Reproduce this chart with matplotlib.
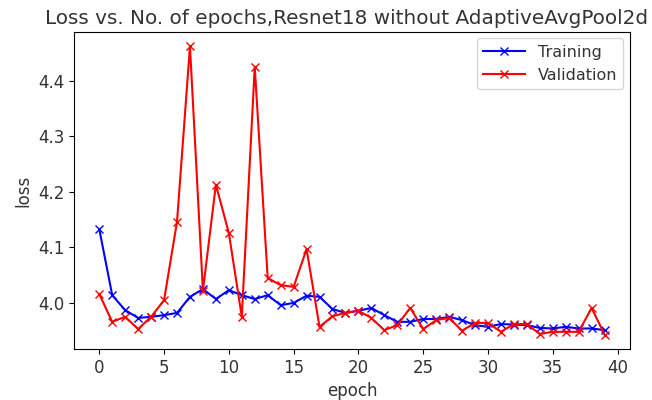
import matplotlib
matplotlib.use('Agg')
import matplotlib.pyplot as plt

# Loss per epoch for the Resnet18 run without the adaptive pooling layer
epochs = list(range(40))
train_loss = [4.133, 4.014, 3.987, 3.973, 3.975, 3.978, 3.982, 4.011, 4.025, 4.007,
              4.023, 4.014, 4.007, 4.014, 3.996, 4.000, 4.013, 4.011, 3.989, 3.982,
              3.986, 3.991, 3.978, 3.966, 3.966, 3.971, 3.971, 3.975, 3.969, 3.960,
              3.957, 3.962, 3.961, 3.960, 3.955, 3.954, 3.957, 3.954, 3.954, 3.951]
val_loss = [4.016, 3.966, 3.975, 3.953, 3.975, 4.005, 4.146, 4.462, 4.022, 4.213,
            4.126, 3.975, 4.425, 4.045, 4.032, 4.029, 4.097, 3.957, 3.976, 3.982,
            3.986, 3.973, 3.951, 3.960, 3.991, 3.953, 3.969, 3.973, 3.950, 3.964,
            3.964, 3.948, 3.962, 3.962, 3.944, 3.948, 3.948, 3.948, 3.991, 3.943]

plt.rcParams['font.size'] = 12
plt.rcParams['text.color'] = '#333333'
plt.rcParams['axes.labelcolor'] = '#333333'
plt.rcParams['xtick.labelcolor'] = '#333333'
plt.rcParams['ytick.labelcolor'] = '#333333'

fig = plt.figure(figsize=(6.52, 4.0), dpi=100)
ax = fig.add_axes([0.1135, 0.1275, 0.8525, 0.7925])

ax.plot(epochs, train_loss, '-bx')
ax.plot(epochs, val_loss, '-rx')
ax.legend(['Training', 'Validation'], loc='upper right', fontsize=11.5,
          handlelength=2.6, borderaxespad=0.4)
ax.set_xlabel('epoch')
ax.set_ylabel('loss')
ax.set_title('Loss vs. No. of epochs,Resnet18 without AdaptiveAvgPool2d',
             fontsize=14.4, x=0.49)

fig.savefig('out.png', dpi=100)
